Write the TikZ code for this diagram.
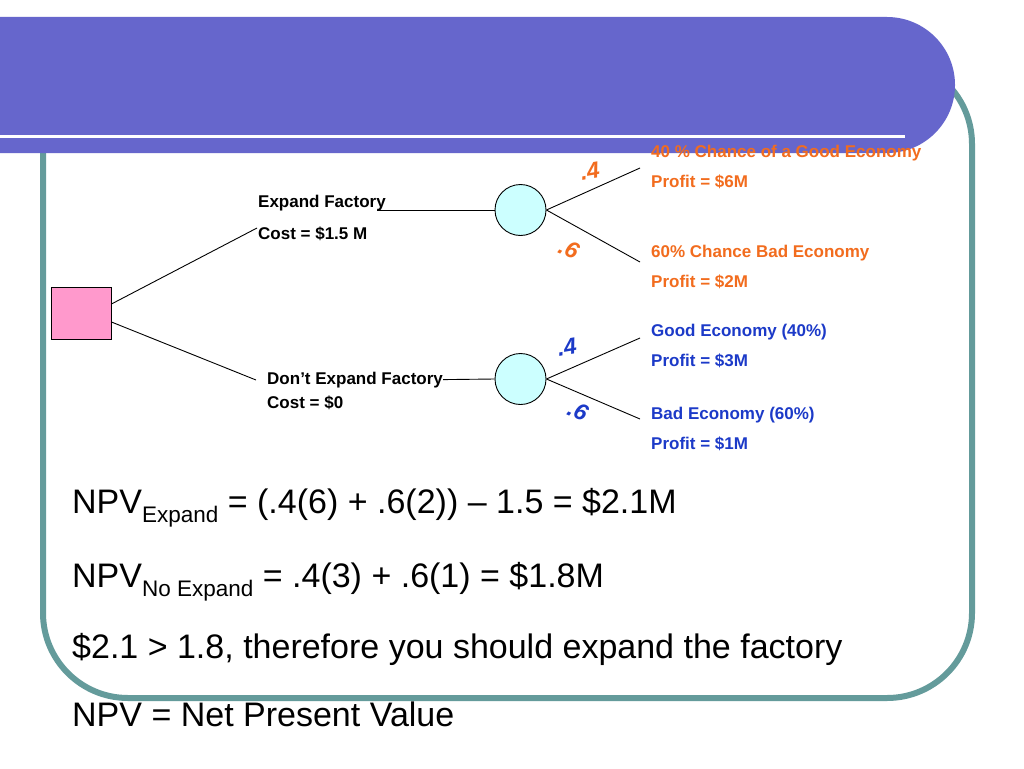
\documentclass[tikz,border=0pt]{standalone}
\usepackage{fontspec}
\setmainfont{Liberation Sans}
\definecolor{bannerc}{RGB}{102,102,204}
\definecolor{framec}{RGB}{100,155,155}
\definecolor{pinkbox}{RGB}{255,153,204}
\definecolor{cyanc}{RGB}{204,255,255}
\definecolor{orng}{RGB}{242,108,30}
\definecolor{blu}{RGB}{28,58,200}
\newcommand{\mysub}[1]{\raisebox{-9.5pt}{\fontsize{22.5}{26}\selectfont #1}}
\begin{document}
\begin{tikzpicture}[x=1pt,y=-1pt,
  lbl/.style={anchor=base west, inner sep=0pt, font=\fontsize{17}{20}\selectfont\bfseries},
  olbl/.style={lbl, text=orng},
  blbl/.style={lbl, text=blu},
  prob/.style={inner sep=0pt, font=\fontsize{23}{26}\selectfont\bfseries\itshape},
  big/.style={anchor=base west, inner sep=0pt, font=\fontsize{34}{40}\selectfont},
  edge/.style={draw=black, line width=0.9pt},
  chance/.style={circle, draw=black, line width=0.9pt, fill=cyanc, minimum size=51pt, inner sep=0pt},
  decision/.style={rectangle, draw=black, line width=0.9pt, fill=pinkbox, minimum width=60pt, minimum height=52pt, inner sep=0pt}
]
\useasboundingbox (0,0) rectangle (1024,768);
\clip (0,0) rectangle (1024,768);
\fill[white] (0,0) rectangle (1024,768);
% frame and banner
\draw[framec, line width=6pt, rounded corners=85pt] (43,59) rectangle (972,698);
\fill[bannerc, rounded corners=68pt] (-200,17) rectangle (955,153);
\fill[white] (0,134.5) rectangle (905,137.5);

% nodes
\node[decision] (dec) at (81,313) {};
\node[chance] (c1) at (520.5,210) {};
\node[chance] (c2) at (520.5,379) {};

\node[lbl] (ef) at (258,207) {Expand Factory};
\node[lbl] (efc) at (258,239) {Cost = \$1.5 M};
\node[lbl] (dnt) at (267,384) {Don’t Expand Factory};
\node[lbl] (dntc) at (267,408) {Cost = \$0};

\node[olbl] (o1) at (651,157) {40 \% Chance of a Good Economy};
\node[olbl] (o1p) at (651,187) {Profit = \$6M};
\node[olbl] (o2) at (651,257) {60\% Chance Bad Economy};
\node[olbl] (o2p) at (651,287) {Profit = \$2M};
\node[blbl] (b1) at (651,336) {Good Economy (40\%)};
\node[blbl] (b1p) at (651,366) {Profit = \$3M};
\node[blbl] (b2) at (651,419) {Bad Economy (60\%)};
\node[blbl] (b2p) at (651,449) {Profit = \$1M};

\node[prob, text=orng, rotate=10] (p1) at (590,171) {.4};
\node[prob, text=orng, rotate=-25] (p2) at (569,249) {.6};
\node[prob, text=blu, rotate=10] (p3) at (567,347) {.4};
\node[prob, text=blu, rotate=-25] (p4) at (578,411) {.6};

\coordinate (e1) at (257,228);
\coordinate (e2) at (256,380);
\coordinate (efx) at (377,210);
\coordinate (g1) at (640,168);
\coordinate (g2) at (640,262);
\coordinate (g3) at (640,338);
\coordinate (g4) at (640,419);

% connectors
\draw[edge] ([yshift=9pt]dec.east) -- (e1);
\draw[edge] ([yshift=-9pt]dec.east) -- (e2);
\draw[edge] (efx) -- (c1.west);
\draw[edge] (dnt.east) -- (c2.west);
\draw[edge] (c1.east) -- (g1);
\draw[edge] (c1.east) -- (g2);
\draw[edge] (c2.east) -- (g3);
\draw[edge] (c2.east) -- (g4);

% bottom text
\node[big] (t1) at (72,513) {NPV\mysub{Expand} = (.4(6) + .6(2)) – 1.5 = \$2.1M};
\node[big] (t2) at (72,587) {NPV\mysub{No Expand} = .4(3) + .6(1) = \$1.8M};
\node[big] (t3) at (72,658) {\$2.1 > 1.8, therefore you should expand the factory};
\node[big] (t4) at (72,726) {NPV = Net Present Value};
\end{tikzpicture}
\end{document}
